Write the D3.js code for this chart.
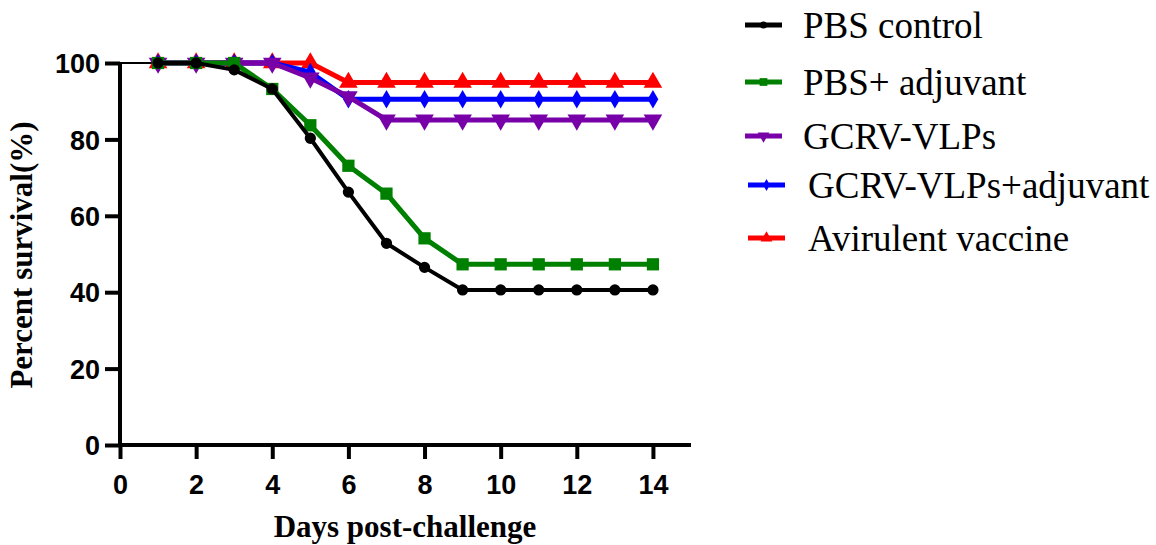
<!DOCTYPE html>
<html>
<head>
<meta charset="utf-8">
<script src="https://cdn.jsdelivr.net/npm/d3@7"></script>
<style>
  body { margin: 0; background: #fff; }
  svg { display: block; }
</style>
</head>
<body>
<div id="chart"></div>
<script>
// Data
const days = [1, 2, 3, 4, 5, 6, 7, 8, 9, 10, 11, 12, 13, 14];
const pbsControl = [100, 100, 98.2, 93.2, 80.3, 66.2, 52.8, 46.5, 40.6, 40.6, 40.6, 40.6, 40.6, 40.6];
const pbsAdjuvant = [100, 100, 100, 93.2, 83.7, 73.1, 65.8, 54.1, 47.3, 47.3, 47.3, 47.3, 47.3, 47.3];
const gcrvVlps = [100, 100, 100, 100, 96.1, 91.2, 85.1, 85.1, 85.1, 85.1, 85.1, 85.1, 85.1, 85.1];
const gcrvVlpsAdj = [100, 100, 100, 100, 97.6, 90.5, 90.5, 90.5, 90.5, 90.5, 90.5, 90.5, 90.5, 90.5];
const avirulent = [100, 100, 100, 100, 100, 94.9, 94.9, 94.9, 94.9, 94.9, 94.9, 94.9, 94.9, 94.9];
const xTicks = [0, 2, 4, 6, 8, 10, 12, 14];
const yTicks = [0, 20, 40, 60, 80, 100];

const series = [
    { name: "PBS control", values: pbsControl, color: "#000000", symbol: d3.symbolCircle, size: 100, rot: 0, width: 4 },
    { name: "PBS+ adjuvant", values: pbsAdjuvant, color: "#008000", symbol: d3.symbolSquare, size: 150, rot: 0, width: 5 },
    { name: "GCRV-VLPs", values: gcrvVlps, color: "#7800a8", symbol: d3.symbolTriangle, size: 150, rot: 180, width: 5 },
    { name: "GCRV-VLPs+adjuvant", values: gcrvVlpsAdj, color: "#0000ff", symbol: d3.symbolDiamond, size: 100, rot: 0, width: 5 },
    { name: "Avirulent vaccine", values: avirulent, color: "#ff0000", symbol: d3.symbolTriangle, size: 150, rot: 0, width: 5 }
];

const W = 1156, H = 545;
const svg = d3.select("#chart").append("svg")
    .attr("width", W)
    .attr("height", H);

// Scales
const x = d3.scaleLinear().domain([0, 15]).range([120, 691]);
const y = d3.scaleLinear().domain([0, 100]).range([445, 63]);

const sans = "'Liberation Sans', Arial, sans-serif";
const serif = "'Liberation Serif', 'Times New Roman', serif";

// Axes
const xAxis = svg.append("g")
    .attr("transform", "translate(0," + y(0) + ")")
    .call(d3.axisBottom(x).tickValues(xTicks).tickSize(14).tickPadding(16).tickSizeOuter(0));
const yAxis = svg.append("g")
    .attr("transform", "translate(" + x(0) + ",0)")
    .call(d3.axisLeft(y).tickValues(yTicks).tickSize(15).tickPadding(5).tickSizeOuter(0));

[xAxis, yAxis].forEach(function (g) {
    g.attr("font-size", null).attr("font-family", null);
    g.select(".domain").attr("stroke", "#000").attr("stroke-width", 4);
    g.selectAll(".tick line").attr("stroke", "#000").attr("stroke-width", 4);
    g.selectAll(".tick text")
        .attr("fill", "#000")
        .style("font-family", sans)
        .style("font-weight", "bold")
        .style("font-size", "27px");
});
// domains meet at the corner
xAxis.select(".domain").attr("d", "M" + (x(0) - 2) + ",0H" + x(15));
yAxis.select(".domain").attr("d", "M0," + (y(0) + 2) + "V" + y(100));
yAxis.selectAll(".tick text").attr("dy", "0.36em");

// Axis titles
svg.append("text")
    .attr("x", 405)
    .attr("y", 537)
    .attr("text-anchor", "middle")
    .style("font-family", serif)
    .style("font-weight", "bold")
    .style("font-size", "31px")
    .text("Days post-challenge");

svg.append("text")
    .attr("transform", "translate(32,255) rotate(-90)")
    .attr("text-anchor", "middle")
    .style("font-family", serif)
    .style("font-weight", "bold")
    .style("font-size", "31px")
    .text("Percent survival(%)");

// thin start segment from day 0
svg.append("line")
    .attr("x1", x(0)).attr("x2", x(days[0]))
    .attr("y1", y(100)).attr("y2", y(100))
    .attr("stroke", "#000").attr("stroke-width", 2);

const line = d3.line()
    .x(function (d) { return x(d[0]); })
    .y(function (d) { return y(d[1]); });

// draw last series first so the black curve sits on top
series.slice().reverse().forEach(function (s) {
    const pts = days.map(function (d, i) { return [d, s.values[i]]; });
    svg.append("path")
        .attr("d", line(pts))
        .attr("fill", "none")
        .attr("stroke", s.color)
        .attr("stroke-width", s.width)
        .attr("stroke-linejoin", "round");
    svg.selectAll(null)
        .data(pts)
        .enter().append("path")
        .attr("d", d3.symbol().type(s.symbol).size(s.size))
        .attr("transform", function (d) {
            return "translate(" + x(d[0]) + "," + y(d[1]) + ") rotate(" + s.rot + ")";
        })
        .attr("fill", s.color);
});

// Legend
const legendY = [25, 82, 136, 185, 238];
const legendX = [745, 745, 745, 748, 748];
const legendTextX = [803, 803, 803, 808, 808];
series.forEach(function (s, i) {
    const g = svg.append("g").attr("transform", "translate(" + legendX[i] + "," + legendY[i] + ")");
    g.append("line")
        .attr("x1", 0).attr("x2", 37)
        .attr("stroke", s.color).attr("stroke-width", 5);
    g.append("path")
        .attr("d", d3.symbol().type(s.symbol).size(s.size * 0.4))
        .attr("transform", "translate(18.5,0) rotate(" + s.rot + ")")
        .attr("fill", s.color);
    svg.append("text")
        .attr("x", legendTextX[i])
        .attr("y", legendY[i])
        .attr("dy", "0.35em")
        .style("font-family", serif)
        .style("font-size", "37px")
        .attr("fill", "#000")
        .text(s.name);
});
</script>
</body>
</html>
